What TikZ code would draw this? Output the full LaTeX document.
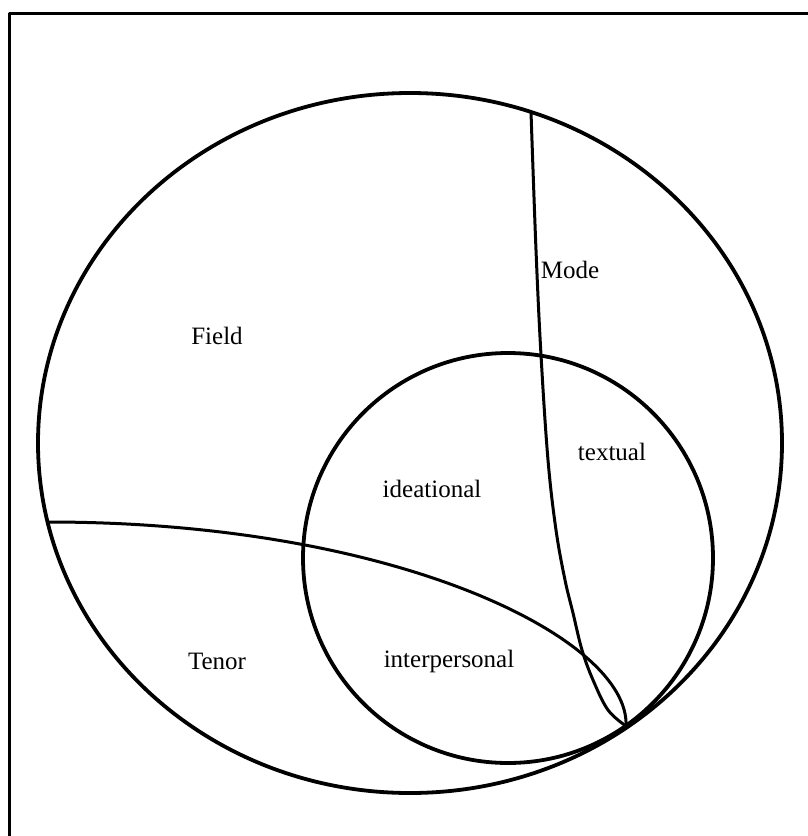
\documentclass[tikz,border=0pt]{standalone}
\usepackage{fontspec}
\setmainfont{Liberation Serif}
\begin{document}
\begin{tikzpicture}[x=1pt,y=-1pt,line join=round,line cap=round,
  lbl/.style={font=\fontsize{25}{28}\selectfont,inner sep=0pt},
  frameline/.style={line width=3pt},
  circ/.style={line width=3.8pt},
  divider/.style={line width=3pt}]
\useasboundingbox (0,0) rectangle (808,836);
% frame (top and left)
\draw[frameline,line cap=butt] (808,13) -- (9,13) -- (9,836);
% outer circle (context) and inner circle (metafunctions)
\draw[circ] (410,443) ellipse [x radius=372,y radius=350];
\draw[circ] (508,558) circle [radius=205];
\coordinate (tip) at (626,726);
\coordinate (modetop) at (531,112);
\coordinate (tenorleft) at (48,522);
% Mode divider
\draw[divider] plot[smooth,tension=0.6] coordinates {(modetop) (536,250) (541,355) (548,460) (556,530) (565,580) (573,613) (582,650) (593,680) (608,710) (tip)};
% Tenor divider
\draw[divider] (tenorleft) .. controls (400,522) and (630,640) .. (tip);
% labels
\node[lbl] (field) at (217,336) {Field};
\node[lbl] (mode) at (570,270) {Mode};
\node[lbl] (textual) at (612,452) {textual};
\node[lbl] (ideational) at (432,489) {ideational};
\node[lbl] (tenor) at (217,661) {Tenor};
\node[lbl] (interpersonal) at (449,661) {interpersonal};
\end{tikzpicture}
\end{document}
